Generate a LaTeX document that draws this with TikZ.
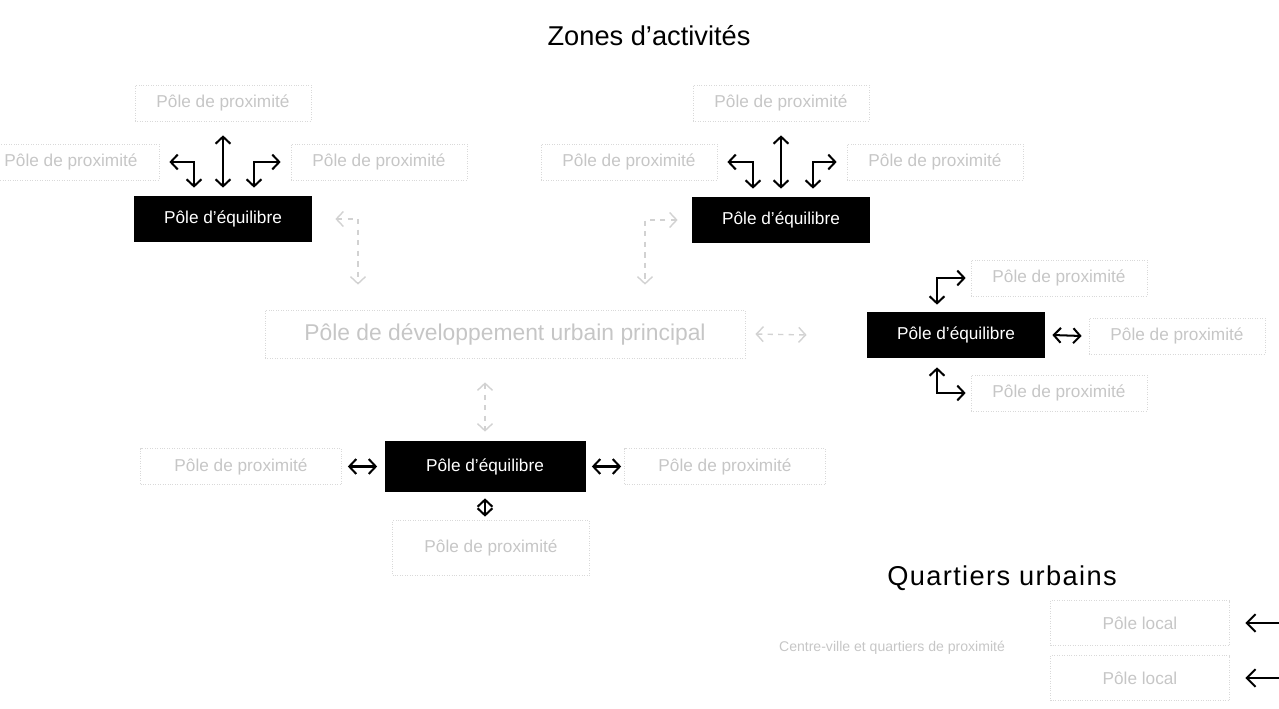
\documentclass[tikz,border=0pt]{standalone}
\usepackage{fontspec}
\setmainfont{Liberation Sans}
\usetikzlibrary{arrows.meta, positioning, calc}

\begin{document}
\begin{tikzpicture}[
    pole/.style={fill=black, text=white, minimum width=3.56cm, minimum height=0.92cm,
        inner sep=0pt, font=\fontsize{9.8}{12}\selectfont},
    prox/.style={draw=gray!30, densely dotted, text=gray!45, minimum width=3.52cm,
        minimum height=0.72cm, inner sep=0pt, font=\fontsize{9.8}{12}\selectfont},
    titre/.style={font=\fontsize{15.5}{18}\selectfont},
    fleche/.style={line width=1.15pt, {Straight Barb[length=4pt,width=8.5pt]}-{Straight Barb[length=4pt,width=8.5pt]}},
    flechesimple/.style={line width=1.15pt, {Straight Barb[length=5pt,width=10pt]}-},
    pale/.style={draw=gray!35, dashed, line width=0.8pt, {Straight Barb[length=4pt,width=8.5pt]}-{Straight Barb[length=4pt,width=8.5pt]}}
  ]
        \useasboundingbox (0,0) rectangle (25.58,-14.18);

        % Titres
        \node[titre] (Z) at (12.98,-0.72) {Zones d'activités};
        \node[titre] (Q) at (20.04,-11.56) {\addfontfeature{LetterSpace=5}Quartiers urbains};

        % Pôles d'équilibre
        \node[pole] (P1) at (4.46,-4.38) {Pôle d'équilibre};
        \node[pole] (P2) at (15.62,-4.40) {Pôle d'équilibre};
        \node[pole] (P3) at (19.12,-6.70) {Pôle d'équilibre};
        \node[pole, minimum width=4.02cm, minimum height=1.02cm] (P4) at (9.70,-9.33) {Pôle d'équilibre};

        % Pôle principal
        \node[prox, minimum width=9.6cm, minimum height=0.96cm, font=\fontsize{13}{15}\selectfont]
            (M) at (10.10,-6.68) {Pôle de développement urbain principal};

        % Pôles de proximité
        \node[prox] (A1) at (4.46,-2.06) {Pôle de proximité};
        \node[prox] (A2) at (1.42,-3.24) {Pôle de proximité};
        \node[prox] (A3) at (7.58,-3.24) {Pôle de proximité};
        \node[prox] (B1) at (15.62,-2.06) {Pôle de proximité};
        \node[prox] (B2) at (12.58,-3.24) {Pôle de proximité};
        \node[prox] (B3) at (18.70,-3.24) {Pôle de proximité};
        \node[prox] (C1) at (21.18,-5.56) {Pôle de proximité};
        \node[prox] (C2) at (23.54,-6.72) {Pôle de proximité};
        \node[prox] (C3) at (21.18,-7.86) {Pôle de proximité};
        \node[prox, minimum width=4.02cm] (D1) at (4.82,-9.33) {Pôle de proximité};
        \node[prox, minimum width=4.02cm] (D2) at (14.50,-9.33) {Pôle de proximité};
        \node[prox, minimum width=3.94cm, minimum height=1.1cm] (D3) at (9.82,-10.96) {Pôle de proximité};

        % Quartiers
        \node[text=gray!45, font=\fontsize{8}{9}\selectfont] (L) at (17.84,-12.96) {Centre-ville et quartiers de proximité};
        \node[prox, minimum width=3.58cm, minimum height=0.9cm] (E1) at (22.80,-12.46) {Pôle local};
        \node[prox, minimum width=3.58cm, minimum height=0.9cm] (E2) at (22.80,-13.56) {Pôle local};
        \coordinate (R1) at (25.58,-12.46);
        \coordinate (R2) at (25.58,-13.56);

        % Liaisons
        \draw[fleche] ([yshift=-2.8mm]A1.south) -- ([yshift=1.6mm]P1.north);
        \draw[fleche] ([xshift=2mm]A2.east) -| ([xshift=-5.8mm,yshift=1.6mm]P1.north);
        \draw[fleche] ([xshift=-2mm]A3.west) -| ([xshift=6.2mm,yshift=1.6mm]P1.north);

        \draw[fleche] ([yshift=-2.8mm]B1.south) -- ([yshift=1.6mm]P2.north);
        \draw[fleche] ([xshift=2mm]B2.east) -| ([xshift=-5.6mm,yshift=1.6mm]P2.north);
        \draw[fleche] ([xshift=-2mm]B3.west) -| ([xshift=6.4mm,yshift=1.6mm]P2.north);

        \draw[fleche] ([xshift=-1mm]C1.west) -| ([xshift=-3.8mm,yshift=1.4mm]P3.north);
        \draw[fleche] ([xshift=1.4mm]P3.east) -- ([xshift=-1.4mm]C2.west);
        \draw[fleche] ([xshift=-3.8mm,yshift=-1.8mm]P3.south) |- ([xshift=-1mm]C3.west);

        \draw[fleche] ([xshift=1.2mm]D1.east) -- ([xshift=-1.4mm]P4.west);
        \draw[fleche] ([xshift=1.2mm]P4.east) -- ([xshift=-0.6mm]D2.west);
        \draw[fleche] ([yshift=-1.2mm]P4.south) -- ($(D3.north -| P4.south)+(0,0.07)$);

        \draw[flechesimple] ([xshift=3.1mm]E1.east) -- (R1);
        \draw[flechesimple] ([xshift=3.1mm]E2.east) -- (R2);

        % Liaisons vers le pôle principal
        \draw[pale] ([xshift=4.6mm]P1.east) -| ([xshift=-29.4mm,yshift=5mm]M.north);
        \draw[pale] ([xshift=-2.8mm]P2.west) -| ([xshift=28mm,yshift=5mm]M.north);
        \draw[pale] ([xshift=2mm]M.east) -- ([xshift=-12mm]P3.west);
        \draw[pale] ($(M.south -| P4.north)+(0,-0.48)$) -- ([yshift=1.8mm]P4.north);
\end{tikzpicture}
\end{document}
